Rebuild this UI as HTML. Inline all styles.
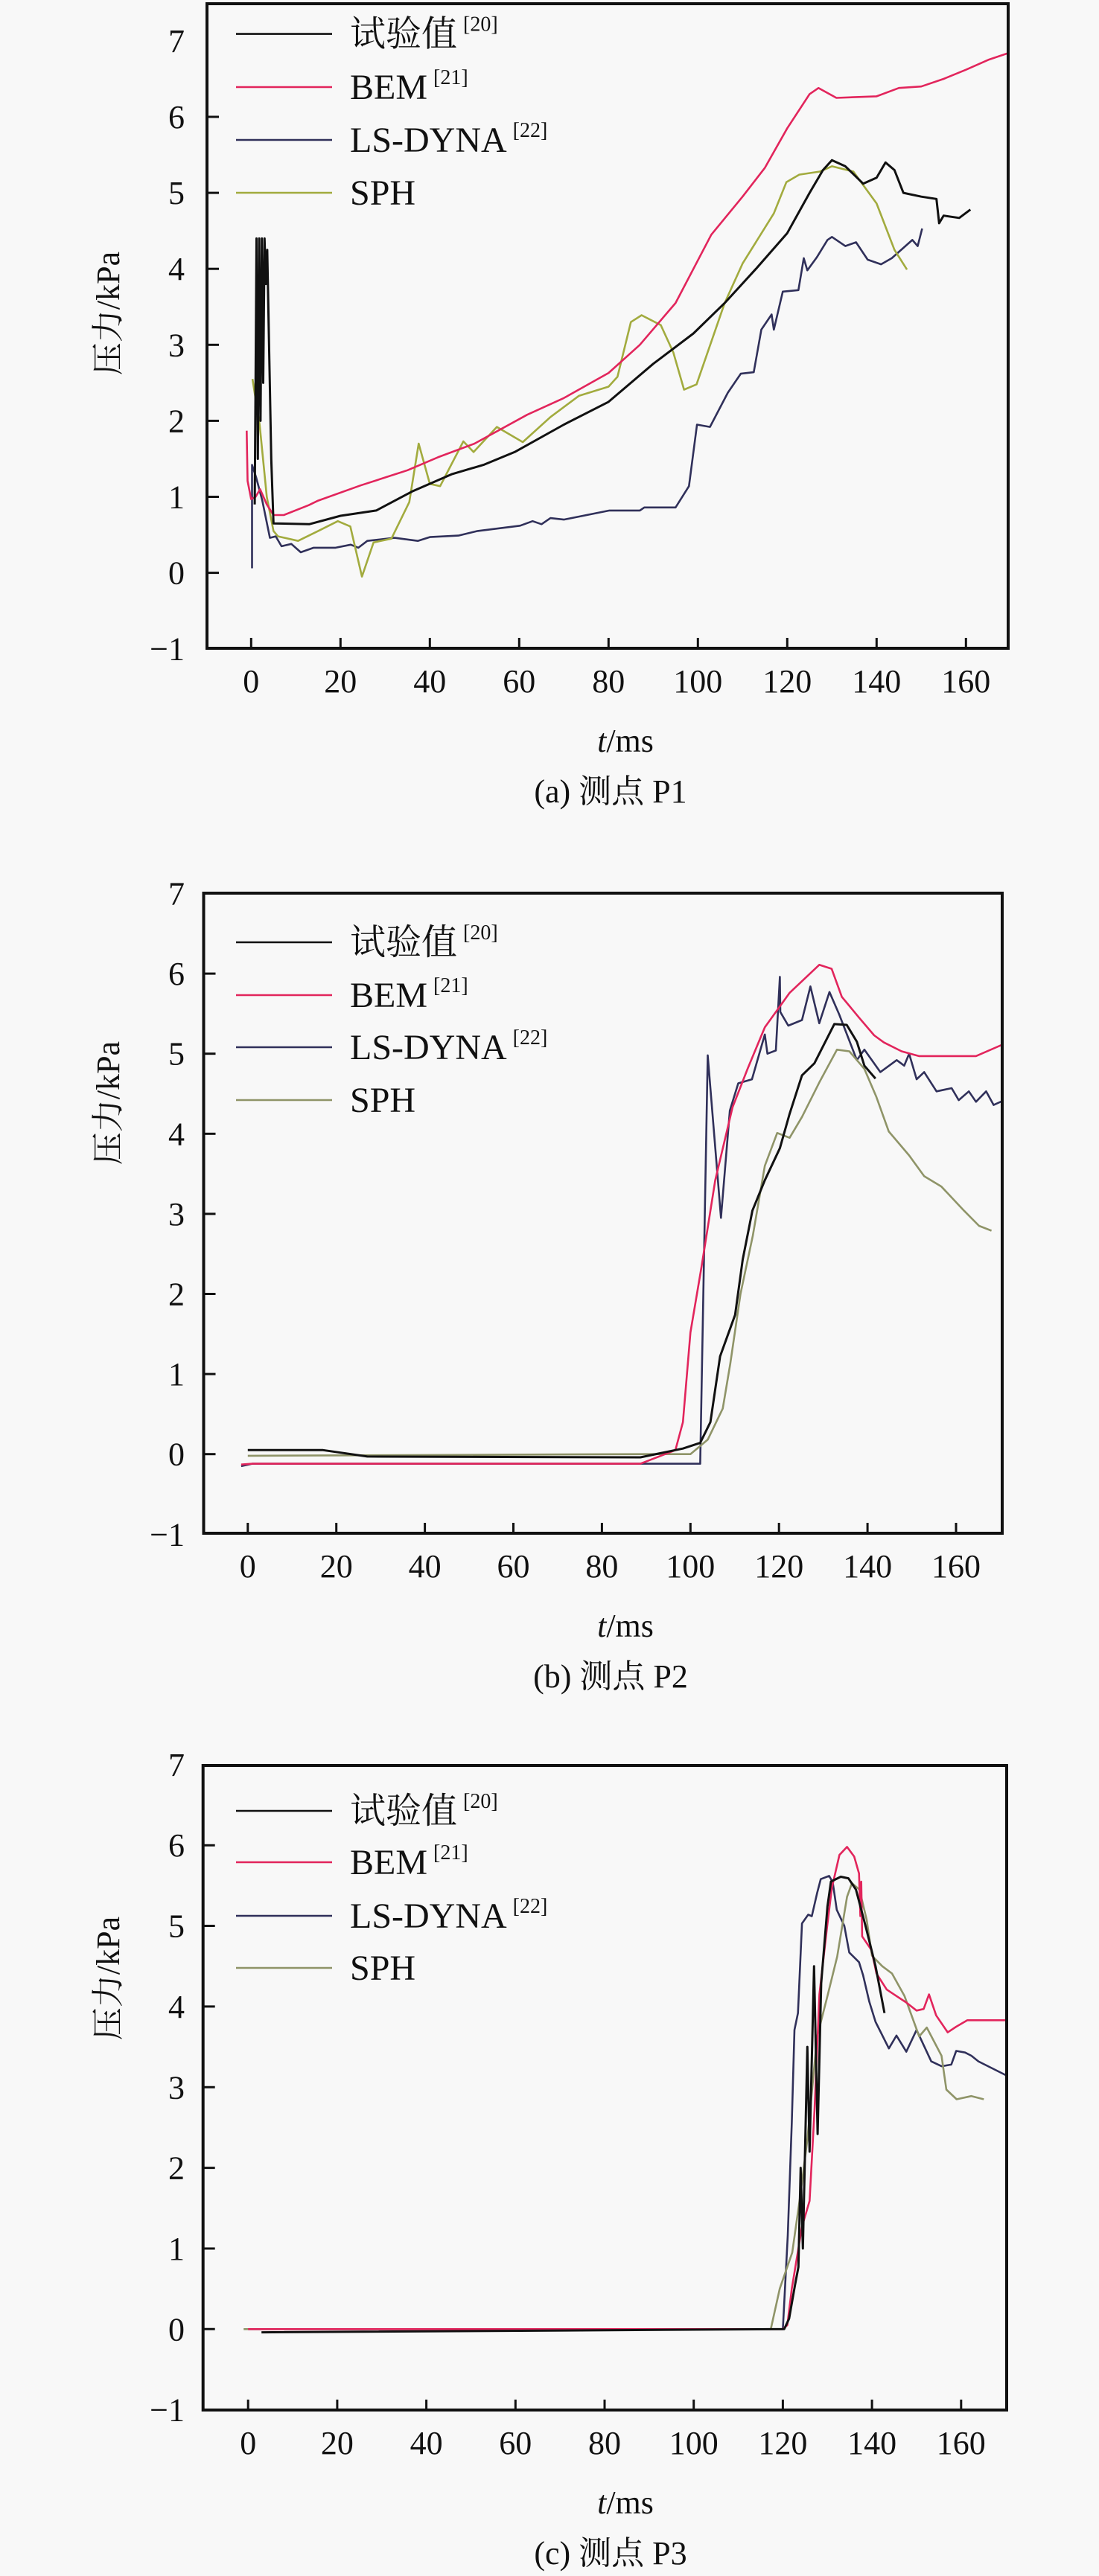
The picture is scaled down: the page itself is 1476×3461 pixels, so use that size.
<!DOCTYPE html>
<html><head><meta charset="utf-8"><style>
html,body{margin:0;padding:0;background:#f8f8f8}
svg{display:block}
text{font-family:"Liberation Serif","Noto Serif CJK SC",serif;fill:#111}
</style></head><body>
<svg id="fig" xmlns="http://www.w3.org/2000/svg" width="1476" height="3461" viewBox="0 0 1476 3461">
<rect x="0" y="0" width="1476" height="3461" fill="#f8f8f8"/>
</svg>
<script>
// ---------- Data ----------
const yTicks = [-1,0,1,2,3,4,5,6,7];
const xTicks = [0,20,40,60,80,100,120,140,160];
const seriesNames = ["试验值","BEM","LS-DYNA","SPH"];
const seriesRefs = ["[20]","[21]","[22]",""];
const captions = ["(a) 测点 P1","(b) 测点 P2","(c) 测点 P3"];

// Panel 1 (P1)
const p1ExpT = [0.8,1,1.2,1.5,1.8,2.1,2.4,2.7,3,3.3,3.6,4.5,5,13,20,28,36,45,52,59,70,80,90,99,106,113,120,125,128,130,133,137,140,142,144,146,150,153.4,154,155,158.5,161];
const p1ExpV = [0.9,2.6,4.4,1.5,4.4,2.0,4.4,2.5,4.4,3.8,4.25,1.5,0.65,0.64,0.75,0.82,1.07,1.3,1.42,1.59,1.95,2.25,2.75,3.15,3.55,4.0,4.47,5.0,5.3,5.43,5.35,5.12,5.2,5.4,5.3,5.0,4.95,4.92,4.6,4.7,4.67,4.78];
const p1BemT = [-1,-0.8,0,1,2,3.5,5,7.3,12.9,15,24.5,35,41.8,50,61.8,70,80,87,95,103,110,115,120,125,127,131,140,145,150,155,160,165,170];
const p1BemV = [1.87,1.21,0.97,1.0,1.1,0.9,0.76,0.76,0.89,0.95,1.15,1.35,1.52,1.7,2.08,2.3,2.63,3.0,3.55,4.45,4.95,5.33,5.85,6.3,6.38,6.25,6.27,6.38,6.4,6.5,6.62,6.75,6.85];
const p1LsT = [0.2,0.2,1.1,2.5,4.2,5.5,6.8,9,11.1,14,18.9,22.3,24,26,32.1,37.3,40,46.4,50.7,60.2,63,65,67,70,80.2,87,88,95,98,99.8,102.7,106.7,109.6,112.5,114.2,116.5,117,119,122.5,123.7,124.5,126.6,129,130,133,135.4,138,141,143.4,148,149.2,150.2];
const p1LsV = [0.06,1.42,1.26,0.95,0.46,0.48,0.35,0.38,0.27,0.33,0.33,0.37,0.33,0.42,0.46,0.42,0.47,0.49,0.55,0.62,0.68,0.64,0.72,0.7,0.82,0.82,0.86,0.86,1.14,1.95,1.92,2.37,2.62,2.64,3.2,3.4,3.2,3.7,3.72,4.14,3.98,4.15,4.38,4.42,4.3,4.35,4.12,4.06,4.14,4.38,4.3,4.53];
const p1SphT = [0.3,1.9,3.5,5,6,10.5,15,19.4,22.2,24.8,27.4,31.4,35.4,37.5,40,42.3,47.5,49.8,55,60.8,67,73.4,80,82,85,87.4,91.7,94.5,96.9,99.7,106,110,117,119.8,122.7,127.3,130,134.8,140,144,146.8];
const p1SphV = [2.55,1.95,1.0,0.55,0.48,0.42,0.55,0.68,0.61,-0.05,0.4,0.45,0.93,1.7,1.17,1.14,1.73,1.59,1.92,1.72,2.05,2.33,2.45,2.58,3.3,3.39,3.26,2.9,2.41,2.48,3.55,4.07,4.73,5.14,5.24,5.28,5.35,5.28,4.86,4.25,3.99];

// Panel 2 (P2)
const p2ExpT = [0,17,27,88.7,98.3,102.2,104.5,106.7,110.1,111.8,114,116.8,120.2,122.4,125.2,128,132.5,135.3,137.6,139.3,141.8];
const p2ExpV = [0.05,0.05,-0.03,-0.04,0.07,0.14,0.4,1.22,1.74,2.43,3.04,3.42,3.82,4.25,4.73,4.88,5.37,5.36,5.15,4.85,4.69];
const p2BemT = [-1.5,1,88.7,96.6,98.3,100,102.5,105.6,109.5,112.9,116.8,122.4,129.1,131.9,134.2,138.1,141.5,143.7,147.7,151.6,164.5,172];
const p2BemV = [-0.13,-0.12,-0.12,0.05,0.4,1.52,2.34,3.42,4.33,4.81,5.33,5.76,6.11,6.06,5.71,5.45,5.23,5.14,5.03,4.97,4.97,5.15];
const p2LsT = [-1.5,1,101.8,102.2,103.9,106.9,108.9,110.8,113.9,116.8,117.4,119.3,120.2,120.3,122.1,125.2,127.1,129.1,131.4,133.6,137.6,139.3,142.9,146.6,148.3,149.4,151.1,152.8,155.6,159,160.6,162.9,164.5,166.8,168.5,171.3];
const p2LsV = [-0.15,-0.12,-0.12,-0.12,4.98,2.95,4.29,4.63,4.68,5.24,5.0,5.04,5.96,5.52,5.35,5.42,5.84,5.38,5.77,5.49,4.92,5.05,4.77,4.92,4.85,5.0,4.68,4.77,4.53,4.57,4.42,4.53,4.4,4.53,4.36,4.43];
const p2SphT = [0,88.7,100,103.9,107.3,109,111.3,114.1,116.8,119.6,122.4,125.2,129.1,133.1,135.9,139.3,142,144.8,149.4,152.8,156.7,161.8,165.2,168];
const p2SphV = [-0.02,0.0,0.0,0.18,0.57,1.13,2.0,2.73,3.6,4.01,3.95,4.21,4.64,5.05,5.03,4.81,4.46,4.03,3.73,3.47,3.34,3.04,2.85,2.79];

// Panel 3 (P3)
const p3ExpT = [3,120.3,121.4,122.7,123.5,124,124.5,125.5,126,127,127.8,128.6,130,130.8,133,134.7,136.4,138.6,140.8,142.8];
const p3ExpV = [-0.04,0,0.13,0.54,0.77,2.0,1.0,3.5,2.2,4.5,2.42,4.29,5.24,5.55,5.61,5.59,5.45,4.99,4.5,3.92];
const p3BemT = [0,120,121,122,124.3,126,127.1,128.2,129.9,131,132.7,134.4,136,137.1,137.4,137.6,137.8,139.9,141,143.3,145.5,147.7,150,151.6,152.8,154.4,157,158.9,161.4,170];
const p3BemV = [0,0,0.05,0.5,1.27,1.59,2.71,4.15,4.98,5.47,5.88,5.98,5.86,5.65,5.12,5.55,4.87,4.7,4.41,4.21,4.13,4.05,3.95,3.97,4.15,3.89,3.68,3.75,3.83,3.83];
const p3LsT = [0,120,121.1,122,122.6,123.4,124.3,125.7,126.5,127.7,128.5,130.4,131.2,132.1,133.8,134.9,137.1,138,139.4,140.8,143.8,145.5,147.7,150,153.3,155.6,157.8,158.9,160.9,162.3,163.9,170];
const p3LsV = [0,0,1.16,2.56,3.71,3.92,5.03,5.14,5.12,5.41,5.58,5.62,5.54,5.2,5.0,4.67,4.55,4.39,4.06,3.81,3.48,3.64,3.44,3.71,3.32,3.26,3.28,3.45,3.43,3.39,3.32,3.15];
const p3SphT = [-1,117.3,119.3,122.1,123.8,125.5,127.7,130,132.2,134.4,135.5,137.2,138.8,140,142.3,144.5,147.3,150.6,152.3,155.6,156.7,159,162.3,165.1];
const p3SphV = [0,0,0.5,0.95,1.61,2.35,3.63,4.13,4.62,5.36,5.53,5.45,5.08,4.63,4.5,4.41,4.13,3.63,3.74,3.39,2.97,2.85,2.89,2.85];

// ---------- Rendering ----------
const NS = "http://www.w3.org/2000/svg";
const svg = document.getElementById("fig");
function mk(tag, attrs, parent){
  const e = document.createElementNS(NS, tag);
  for (const k in attrs) e.setAttribute(k, attrs[k]);
  (parent||svg).appendChild(e);
  return e;
}
const panels = [
  {id:"p1", left:278, top:5, right:1354, bottom:871, x0:337.3, xs:6.0, y0:769.6, ys:102.1, ytitle:421, legY:[45.6,117,188,259],
   series:[[p1ExpT,p1ExpV],[p1BemT,p1BemV],[p1LsT,p1LsV],[p1SphT,p1SphV]], sphColor:"#a2ab3e"},
  {id:"p2", left:273.5, top:1200, right:1346, bottom:2060, x0:332.8, xs:5.945, y0:1953.7, ys:107.6, ytitle:1482, legY:[1266,1337,1407,1478],
   series:[[p2ExpT,p2ExpV],[p2BemT,p2BemV],[p2LsT,p2LsV],[p2SphT,p2SphV]], sphColor:"#8f9468"},
  {id:"p3", left:272.7, top:2372, right:1352, bottom:3238, x0:333.2, xs:5.985, y0:3129.3, ys:108.35, ytitle:2658, legY:[2433,2502,2574,2644],
   series:[[p3ExpT,p3ExpV],[p3BemT,p3BemV],[p3LsT,p3LsV],[p3SphT,p3SphV]], sphColor:"#8f9468"}
];
const colors = ["#111111","#e2255c","#30305a",null];
const widths = [3,2.6,2.6,2.6];

panels.forEach((P, pi) => {
  const g = mk("g", {});
  
  
  const xScale = t => P.x0 + t * P.xs;
  const yScale = v => P.y0 - v * P.ys;
  const clipId = "clip" + pi;
  const cp = mk("clipPath", {id: clipId}, g);
  mk("rect", {x:P.left, y:P.top, width:P.right-P.left, height:P.bottom-P.top}, cp);

  // series
  const sg = mk("g", {"clip-path": "url(#" + clipId + ")"}, g);
  
  
  [2,3,1,0].forEach(si => {
    const [T, V] = P.series[si];
    const pts = T.map((t, i) => xScale(t).toFixed(1) + "," + yScale(V[i]).toFixed(1)).join(" ");
    const pl = mk("polyline", {points: pts, fill: "none", stroke: si === 3 ? P.sphColor : colors[si], "stroke-width": widths[si], "stroke-linejoin": "round"}, sg);
    
    
  });

  // frame
  const fr = mk("rect", {x:P.left, y:P.top, width:P.right-P.left, height:P.bottom-P.top, fill:"none", stroke:"#111", "stroke-width":4}, g);
  
  

  // y ticks
  yTicks.forEach(v => {
    const y = yScale(v);
    if (v !== -1 && v !== 7) {
      const tk = mk("line", {x1:P.left, x2:P.left+16, y1:y, y2:y, stroke:"#111", "stroke-width":3}, g);
      
      
    }
    const lb = mk("text", {x:248, y:y+15, "text-anchor":"end", "font-size":44}, g);
    lb.textContent = v < 0 ? "\u2212" + Math.abs(v) : String(v);
    
    
  });
  // x ticks
  xTicks.forEach(t => {
    const x = xScale(t);
    const tk = mk("line", {x1:x, x2:x, y1:P.bottom, y2:P.bottom-14, stroke:"#111", "stroke-width":3}, g);
    
    
    const lb = mk("text", {x:x, y:P.bottom+59, "text-anchor":"middle", "font-size":44}, g);
    lb.textContent = String(t);
    
    
  });
  // axis titles
  const xt = mk("text", {x:840, y:P.bottom+139, "text-anchor":"middle", "font-size":44}, g);
  xt.innerHTML = '<tspan font-style="italic">t</tspan>/ms';
  
  
  const yt = mk("text", {x:0, y:0, "text-anchor":"middle", "font-size":44, transform:"translate(160," + P.ytitle + ") rotate(-90)"}, g);
  yt.textContent = "压力/kPa";
  
  
  const cap = mk("text", {x:820, y:P.bottom+207, "text-anchor":"middle", "font-size":44}, g);
  cap.textContent = captions[pi];
  
  

  // legend
  const lg = mk("g", {}, g);
  
  
  seriesNames.forEach((name, si) => {
    const y = P.legY[si];
    const ln = mk("line", {x1:317, x2:446, y1:y, y2:y, stroke: si === 3 ? P.sphColor : colors[si], "stroke-width":2.6}, lg);
    
    
    const tx = mk("text", {x:470, y:y+16, "font-size":48}, lg);
    tx.textContent = name;
    if (seriesRefs[si]) {
      const sp = mk("tspan", {"font-size":28, dy:-20, dx:8}, tx);
      sp.textContent = seriesRefs[si];
    }
    
    
  });
});
</script>
</body></html>
